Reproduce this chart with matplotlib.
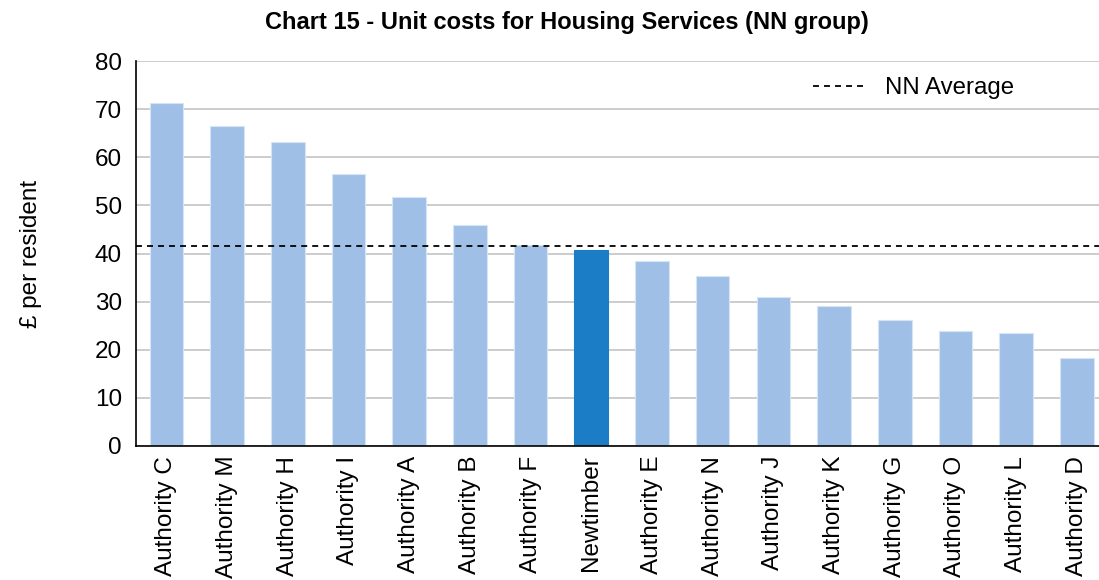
import matplotlib
matplotlib.use("Agg")
import matplotlib.pyplot as plt
from matplotlib.lines import Line2D

plt.rcParams['font.family'] = ['Liberation Sans', 'DejaVu Sans']

categories = ["Authority C", "Authority M", "Authority H", "Authority I", "Authority A",
              "Authority B", "Authority F", "Newtimber", "Authority E", "Authority N",
              "Authority J", "Authority K", "Authority G", "Authority O", "Authority L",
              "Authority D"]
values = [71.3, 66.5, 63.2, 56.6, 51.7, 45.9, 41.7, 40.8, 38.4, 35.4,
          30.9, 29.0, 26.1, 24.0, 23.4, 18.3]
nn_average = 41.6
highlight = "Newtimber"

light = "#A0BFE6"
dark = "#1B7DC6"
dash = (0, (3.3, 2.8))

fig = plt.figure(figsize=(10.99, 5.80), dpi=100)
ax = fig.add_axes([136 / 1099, 1 - 446 / 580, (1099 - 136) / 1099, (446 - 61) / 580])

x = range(len(categories))
colors = [dark if c == highlight else light for c in categories]
edges = [dark if c == highlight else "#D6E4F5" for c in categories]
ax.bar(x, values, width=0.555, color=colors, edgecolor=edges, linewidth=0.8, zorder=2)
ax.axhline(nn_average, color="black", linestyle=dash, linewidth=1.3, zorder=3)

ax.set_ylim(0, 80)
ax.set_yticks(range(0, 81, 10))
ax.set_xlim(-0.5, -0.5 + (1099 - 136) / 60.7)
ax.set_xticks(list(x))
ax.set_xticklabels(categories, rotation=90, fontsize=17.5)
ax.tick_params(axis="y", labelsize=17.5, length=0, pad=10)
ax.tick_params(axis="x", length=0, pad=7)
ax.yaxis.grid(True, color="#C8C8C8", linewidth=1.3, zorder=0)
ax.set_axisbelow(True)

for side in ("top", "right"):
    ax.spines[side].set_visible(False)
for side in ("left", "bottom"):
    ax.spines[side].set_color("black")
    ax.spines[side].set_linewidth(1.2)

ax.set_ylabel("£ per resident", fontsize=17.5)
ax.yaxis.set_label_coords(-94 / 963, 0.5)
fig.text(567 / 1099, 1 - 22 / 580, "Chart 15 - Unit costs for Housing Services (NN group)",
         ha="center", va="center", fontsize=17, fontweight="bold")

handle = Line2D([], [], color="black", linestyle=dash, linewidth=1.3)
leg = ax.legend([handle], ["NN Average"], loc="upper right", bbox_to_anchor=(0.927, 0.995),
                frameon=False, fontsize=17.3, handlelength=2.3, handletextpad=0.7,
                borderaxespad=0.2)

fig.savefig("out.png", dpi=100)
